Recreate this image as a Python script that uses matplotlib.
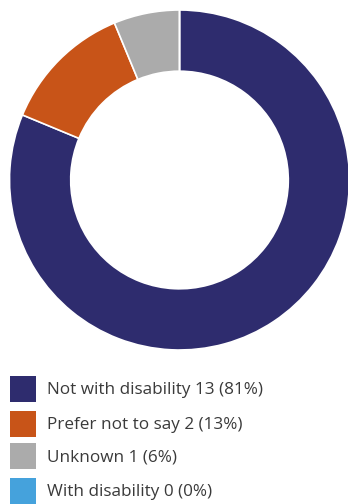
import matplotlib.pyplot as plt
from matplotlib.patches import Rectangle

plt.rcParams["font.family"] = "Open Sans"

categories = ["Not with disability", "Prefer not to say", "Unknown", "With disability"]
counts = [13, 2, 1, 0]
percents = [81, 13, 6, 0]
colors = ["#2e2c6e", "#c85418", "#ababab", "#45a2dc"]

W, H = 348, 504
fig = plt.figure(figsize=(W / 100, H / 100), dpi=100)

# donut: centre (179.5, 180) px, outer radius 170 px
cx, cy, r = 179.5, 180, 170
ax = fig.add_axes([(cx - r) / W, 1 - (cy + r) / H, 2 * r / W, 2 * r / H])
ax.pie(counts, colors=colors, startangle=90, counterclock=False, radius=1,
       wedgeprops=dict(width=0.36, edgecolor="white", linewidth=1.2))
ax.set_xlim(-1, 1)
ax.set_ylim(-1, 1)
ax.set_aspect("equal")
ax.axis("off")

# legend drawn by hand
row_y = [389, 424, 456, 491]
for name, n, p, c, y in zip(categories, counts, percents, colors, row_y):
    fig.patches.append(Rectangle((10 / W, 1 - (y + 13) / H), 26 / W, 26 / H,
                                 transform=fig.transFigure, facecolor=c,
                                 edgecolor="none"))
    fig.text(47 / W, 1 - (y + 1) / H, f"{name} {n} ({p}%)", fontsize=12.3,
             color="#3a3a3a", va="center", ha="left")

fig.savefig("out.png", dpi=100)
